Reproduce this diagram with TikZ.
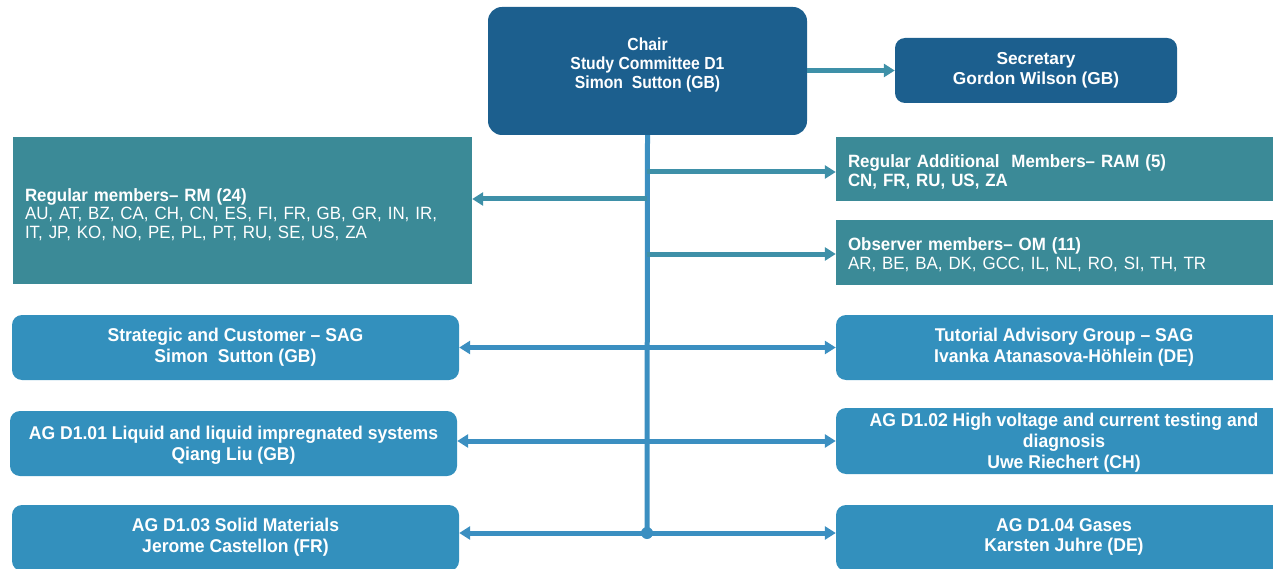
\documentclass[tikz,border=0pt]{standalone}
\usepackage{fontspec}
\setmainfont{Liberation Sans}
\newfontfamily\headfont{Liberation Sans}[FakeStretch=0.9]
\newfontfamily\groupfont{Liberation Sans}[FakeStretch=0.95]
\newfontfamily\memberfont{Liberation Sans}[FakeStretch=0.95]
\usetikzlibrary{arrows.meta}

\definecolor{chairblue}{HTML}{1C5F8E}
\definecolor{memberteal}{HTML}{3B8A97}
\definecolor{groupblue}{HTML}{3390BD}
\definecolor{lineteal}{HTML}{3E90A8}
\definecolor{lineblue}{HTML}{3B8FC1}

\tikzset{
  headbox/.style={fill=chairblue, rounded corners=14pt, inner sep=0pt},
  memberbox/.style={fill=memberteal, inner sep=0pt},
  groupbox/.style={fill=groupblue, rounded corners=10pt, inner sep=0pt},
  headtext/.style={text=white, align=center, inner sep=0pt,
    font=\headfont\fontsize{17.5}{19}\selectfont\bfseries},
  membertext/.style={text=white, align=left, inner sep=0pt,
    font=\memberfont\fontsize{17.8}{18.7}\selectfont},
  grouptext/.style={text=white, align=center, inner sep=0pt,
    font=\groupfont\fontsize{18.5}{20.8}\selectfont\bfseries},
  tip/.tip={Triangle[length=11pt,width=13pt]},
  link/.style={line width=5pt, -tip},
  twoway/.style={line width=5pt, color=lineblue, tip-tip},
}

\begin{document}
\begin{tikzpicture}[x=1pt, y=-1pt]
\useasboundingbox (0,0) rectangle (1273,569);

% top of the hierarchy
\node[headbox, minimum width=319pt, minimum height=128pt] (chair) at (647.5,71) {};
\node[headtext] (chairtxt) at ([yshift=6pt]chair.center)
  {Chair\\Study Committee D1\\Simon\ \ Sutton (GB)};
\node[headbox, rounded corners=10pt, minimum width=282pt, minimum height=65pt] (sec) at (1036,70.5) {};
\node[headtext, font=\fontsize{17.3}{20}\selectfont\bfseries] (sectxt) at (sec.center)
  {Secretary\\Gordon Wilson (GB)};

% member categories
\node[memberbox, minimum width=459pt, minimum height=147pt] (rm) at (242.5,210.5) {};
\node[membertext, text width=435pt] (rmtxt) at ([yshift=-4pt]rm.center)
  {\textbf{Regular members– RM (24)}\\AU, AT, BZ, CA, CH, CN, ES, FI, FR, GB, GR, IN, IR,\\IT, JP, KO, NO, PE, PL, PT, RU, SE, US, ZA};
\node[memberbox, minimum width=456pt, minimum height=64pt] (ram) at (1064,169) {};
\node[membertext, text width=432pt] (ramtxt) at ([yshift=-3pt]ram.center)
  {\textbf{Regular Additional\ \ Members– RAM (5)}\\\textbf{CN, FR, RU, US, ZA}};
\node[memberbox, minimum width=456pt, minimum height=65pt] (om) at (1064,252.5) {};
\node[membertext, text width=432pt] (omtxt) at ([yshift=-2pt]om.center)
  {\textbf{Observer members– OM (11)}\\AR, BE, BA, DK, GCC, IL, NL, RO, SI, TH, TR};

% advisory and working groups
\node[groupbox, minimum width=447pt, minimum height=65pt] (sag) at (235.5,347.5) {};
\node[grouptext] (sagtxt) at (sag.center)
  {Strategic and Customer – SAG\\Simon\ \ Sutton (GB)};
\node[groupbox, minimum width=456pt, minimum height=65pt] (tag) at (1064,347.5) {};
\node[grouptext] (tagtxt) at (tag.center)
  {Tutorial Advisory Group – SAG\\Ivanka Atanasova-Höhlein (DE)};
\node[groupbox, minimum width=447pt, minimum height=65pt] (ag1) at (233.5,443.5) {};
\node[grouptext] (ag1txt) at ([yshift=-2pt]ag1.center)
  {AG D1.01 Liquid and liquid impregnated systems\\Qiang Liu (GB)};
\node[groupbox, minimum width=456pt, minimum height=66pt] (ag2) at (1064,441) {};
\node[grouptext] (ag2txt) at ([yshift=-2pt]ag2.center)
  {AG D1.02 High voltage and current testing and\\diagnosis\\Uwe Riechert (CH)};
\node[groupbox, minimum width=447pt, minimum height=66pt] (ag3) at (235.5,538) {};
\node[grouptext] (ag3txt) at ([yshift=1pt]ag3.center)
  {AG D1.03 Solid Materials\\Jerome Castellon (FR)};
\node[groupbox, minimum width=456pt, minimum height=66pt] (ag4) at (1064,538) {};
\node[grouptext] (ag4txt) at ([yshift=1pt]ag4.center)
  {AG D1.04 Gases\\Karsten Juhre (DE)};

% junctions on the central trunk
\coordinate (jram) at (647,172);
\coordinate (jrm) at (647,199);
\coordinate (jom) at (647,254);
\node[circle, fill=lineblue, inner sep=0pt, minimum size=12pt] (dot) at (647,533) {};

% connectors
\draw[link, color=lineteal] (chair.east |- sec.west) -- (sec.west);
\draw[line width=5pt, color=lineblue] (chair.south) -- (dot.center);
\draw[link, color=lineteal] (jrm) -- (jrm -| rm.east);
\draw[link, color=lineteal] (jram) -- (jram -| ram.west);
\draw[link, color=lineteal] (jom) -- (jom -| om.west);
\draw[twoway] (sag.east) -- (sag.east -| tag.west);
\draw[twoway] (ag1.east |- ag2.west) -- (ag2.west);
\draw[twoway] (ag3.east |- dot) -- (dot -| ag4.west);
\end{tikzpicture}
\end{document}
